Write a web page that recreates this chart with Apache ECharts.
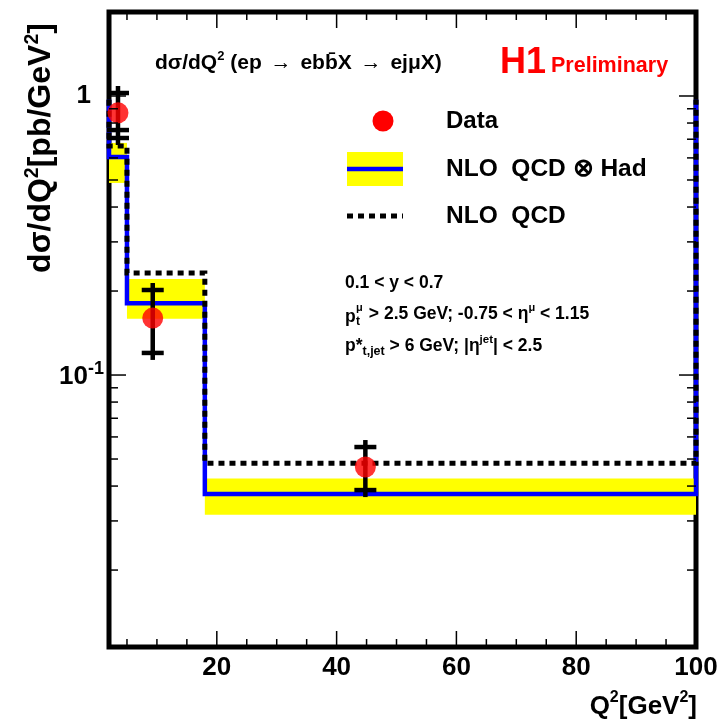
<!DOCTYPE html>
<html><head><meta charset="utf-8">
<script src="https://cdn.jsdelivr.net/npm/echarts@6/dist/echarts.min.js"></script>
<style>html,body{margin:0;padding:0;background:#fff}#c{width:722px;height:728px}</style>
</head><body><div id="c"></div>
<script>
// ---- data ----
const binEdges = [2, 5, 18, 100];
const nloHad = [0.604, 0.181, 0.0375];
const nloHadLow = [0.488, 0.159, 0.0316];
const nloHadHigh = [0.679, 0.221, 0.0426];
const nloQcd = [0.662, 0.232, 0.0483];
const outerLevel = [0.97, 0.97];   // level the histogram outline reaches at the two outer edges
const dataQ2 = [3.5, 9.3, 44.8];
const dataVal = [0.87, 0.160, 0.0468];
const dataErrHigh = [1.025, 0.2017, 0.0552];
const dataErrLow = [0.707, 0.120, 0.0387];
const dataStatLow = [0.755, 0.120, 0.0387];
const xLabels = [20, 40, 60, 80, 100];
const xMajorTicks = [20, 40, 60, 80];
const xMinorTicks = [5, 10, 15, 25, 30, 35, 45, 50, 55, 65, 70, 75, 85, 90, 95];
const yLabels = [0.1, 1];
const yMajorTicks = [0.1, 1];
const yMinorTicks = [0.02, 0.03, 0.04, 0.05, 0.06, 0.07, 0.08, 0.09, 0.2, 0.3, 0.4, 0.5, 0.6, 0.7, 0.8, 0.9];
const xMin = 2, xMax = 100, yMin = 0.0106, yMax = 2;

const FONT = '"Liberation Sans", Arial, sans-serif';

function stepPoints(vals) {
  const pts = [[binEdges[0], outerLevel[0]]];
  for (let i = 0; i < vals.length; i++) {
    pts.push([binEdges[i], vals[i]]);
    pts.push([binEdges[i + 1], vals[i]]);
  }
  pts.push([binEdges[binEdges.length - 1], outerLevel[1]]);
  return pts;
}

const bandData = nloHad.map((v, i) => [binEdges[i], binEdges[i + 1], nloHadLow[i], nloHadHigh[i]]);
const errData = dataQ2.map((q, i) => [q, dataErrHigh[i], dataErrLow[i], dataStatLow[i]]);
const tickData = []
  .concat(xMajorTicks.map(v => [v, yMax, 16, 0]))
  .concat(xMinorTicks.map(v => [v, yMax, 8, 0]))
  .concat(yMajorTicks.map(v => [xMin, v, 17, 1]))
  .concat(yMinorTicks.map(v => [xMin, v, 9, 1]));

const chart = echarts.init(document.getElementById('c'), null, {renderer: 'canvas'});

const txt = (size, extra) => Object.assign({fontSize: size, fontWeight: 'bold', fontFamily: FONT, fill: '#000'}, extra || {});

const option = {
  animation: false,
  backgroundColor: '#fff',
  grid: {left: 109, right: 26, top: 12, bottom: 81, show: true, borderColor: '#000', borderWidth: 5, backgroundColor: 'transparent'},
  xAxis: {
    type: 'value', min: xMin, max: xMax,
    splitLine: {show: false}, axisTick: {show: false}, axisLine: {show: false},
    axisLabel: {customValues: xLabels, fontSize: 26, fontWeight: 'bold', color: '#000', fontFamily: FONT, margin: 8, showMaxLabel: true}
  },
  yAxis: {
    type: 'log', logBase: 10, min: yMin, max: yMax,
    splitLine: {show: false}, axisTick: {show: false}, axisLine: {show: false},
    axisLabel: {
      customValues: yLabels, margin: 5, color: '#000', fontFamily: FONT, fontWeight: 'bold', fontSize: 26,
      formatter: v => (v > 0.5 ? '{one|1}' : '{b|10}{s|-1}'),
      rich: {
        one: {fontSize: 26, fontWeight: 'bold', fontFamily: FONT, color: '#000', lineHeight: 30, padding: [0, 13, 0, 0]},
        b: {fontSize: 26, fontWeight: 'bold', fontFamily: FONT, color: '#000', lineHeight: 30, verticalAlign: 'bottom'},
        s: {fontSize: 18, fontWeight: 'bold', fontFamily: FONT, color: '#000', lineHeight: 18, verticalAlign: 'top'}
      }
    }
  },
  series: [
    {
      type: 'custom', name: 'band', data: bandData, z: 2, silent: true,
      encode: {x: [0, 1], y: [2, 3]},
      renderItem: (params, api) => {
        const p1 = api.coord([api.value(0), api.value(3)]);
        const p2 = api.coord([api.value(1), api.value(2)]);
        return {type: 'rect', shape: {x: p1[0], y: p1[1], width: p2[0] - p1[0], height: p2[1] - p1[1]}, style: {fill: '#ffff00'}};
      }
    },
    {
      type: 'line', name: 'NLO QCD x Had', data: stepPoints(nloHad), z: 3, symbol: 'none', silent: true,
      lineStyle: {color: '#0000ff', width: 4.5, cap: 'butt', join: 'miter'}
    },
    {
      type: 'line', name: 'NLO QCD', data: stepPoints(nloQcd), z: 4, symbol: 'none', silent: true,
      lineStyle: {color: '#000', width: 5, type: [6, 5], cap: 'butt', join: 'miter'}
    },
    {
      type: 'custom', name: 'errors', data: errData, z: 5, silent: true,
      encode: {x: 0, y: [1, 2]},
      renderItem: (params, api) => {
        const q = api.value(0);
        const hi = api.coord([q, api.value(1)]);
        const lo = api.coord([q, api.value(2)]);
        const st = api.coord([q, api.value(3)]);
        const ext = 7, hw = 11;
        const st2 = {stroke: '#000', lineWidth: 4.5};
        const children = [
          {type: 'line', shape: {x1: hi[0], y1: hi[1] - ext, x2: lo[0], y2: lo[1] + ext}, style: st2},
          {type: 'line', shape: {x1: hi[0] - hw, y1: hi[1], x2: hi[0] + hw, y2: hi[1]}, style: st2},
          {type: 'line', shape: {x1: lo[0] - hw, y1: lo[1], x2: lo[0] + hw, y2: lo[1]}, style: st2}
        ];
        if (Math.abs(st[1] - lo[1]) > 1) {
          children.push({type: 'line', shape: {x1: st[0] - hw, y1: st[1], x2: st[0] + hw, y2: st[1]}, style: st2});
        }
        return {type: 'group', children};
      }
    },
    {
      type: 'scatter', name: 'Data', data: dataQ2.map((q, i) => [q, dataVal[i]]), z: 6, silent: true,
      symbol: 'circle', symbolSize: 21, itemStyle: {color: '#ff0000'}
    },
    {
      type: 'custom', name: 'ticks', data: tickData, z: 7, silent: true,
      encode: {x: 0, y: 1},
      renderItem: (params, api) => {
        const cs = params.coordSys;
        const len = api.value(2);
        const st = {stroke: '#000', lineWidth: 1.5};
        const left = cs.x, right = cs.x + cs.width, top = cs.y, bottom = cs.y + cs.height;
        if (api.value(3) === 0) {
          const px = api.coord([api.value(0), api.value(1)])[0];
          return {type: 'group', children: [
            {type: 'line', shape: {x1: px, y1: bottom, x2: px, y2: bottom - len}, style: st},
            {type: 'line', shape: {x1: px, y1: top, x2: px, y2: top + len}, style: st}
          ]};
        }
        const py = api.coord([api.value(0), api.value(1)])[1];
        return {type: 'group', children: [
          {type: 'line', shape: {x1: left, y1: py, x2: left + len, y2: py}, style: st},
          {type: 'line', shape: {x1: right, y1: py, x2: right - len, y2: py}, style: st}
        ]};
      }
    }
  ],
  graphic: [
    // axis titles
    {type: 'text', x: 697, y: 705, z: 100, style: {
      text: '{a|Q}{s|2}{a|[GeV}{s|2}{a|]}', align: 'right', verticalAlign: 'middle',
      rich: {a: txt(26, {lineHeight: 30, verticalAlign: 'bottom'}), s: txt(16, {lineHeight: 16, verticalAlign: 'top'})}
    }},
    {type: 'text', x: 40, y: 148, rotation: Math.PI / 2, z: 100, style: {
      text: '{a|dσ/dQ}{s|2}{a|[pb/GeV}{s|2}{a|]}', align: 'center', verticalAlign: 'middle',
      rich: {a: txt(32, {lineHeight: 35, verticalAlign: 'bottom'}), s: txt(19.5, {lineHeight: 19, verticalAlign: 'top'})}
    }},
    // header
    {type: 'text', x: 155, y: 62, z: 100, style: {
      text: '{a|dσ/dQ}{s|2}{a| (ep }{r|→}{a| ebb\u0304X }{r|→}{a| ejμX)}', align: 'left', verticalAlign: 'middle',
      rich: {a: txt(21, {lineHeight: 24, verticalAlign: 'bottom'}), s: txt(13, {lineHeight: 13, verticalAlign: 'top'}),
             r: txt(21, {lineHeight: 24, verticalAlign: 'bottom', fontWeight: 'normal', padding: [0, 3, 0, 3]})}
    }},
    {type: 'text', x: 500, y: 63, z: 100, style: txt(36, {text: 'H1', fill: '#ff0000', verticalAlign: 'middle'})},
    {type: 'text', x: 551, y: 66, z: 100, style: txt(21.5, {text: 'Preliminary', fill: '#ff0000', verticalAlign: 'middle'})},
    // legend
    {type: 'circle', shape: {cx: 383, cy: 121, r: 10.5}, style: {fill: '#ff0000'}, z: 100},
    {type: 'text', x: 446, y: 121, z: 100, style: txt(24, {text: 'Data', verticalAlign: 'middle'})},
    {type: 'rect', shape: {x: 347, y: 152, width: 56, height: 34}, style: {fill: '#ffff00'}, z: 100},
    {type: 'line', shape: {x1: 347, y1: 169, x2: 403, y2: 169}, style: {stroke: '#0000ff', lineWidth: 4.5}, z: 101},
    {type: 'text', x: 446, y: 169, z: 100, style: txt(24.5, {text: 'NLO  QCD ⊗ Had', verticalAlign: 'middle'})},
    {type: 'line', shape: {x1: 347, y1: 216, x2: 403, y2: 216}, style: {stroke: '#000', lineWidth: 5, lineDash: [6, 5]}, z: 100},
    {type: 'text', x: 446, y: 216, z: 100, style: txt(24.5, {text: 'NLO  QCD', verticalAlign: 'middle'})},
    // cuts
    {type: 'text', x: 345, y: 283, z: 100, style: txt(17.5, {text: '0.1 < y < 0.7', verticalAlign: 'middle'})},
    {type: 'text', x: 345, y: 317, z: 100, style: txt(17.5, {text: 'p', verticalAlign: 'middle'})},
    {type: 'text', x: 356, y: 308, z: 100, style: txt(11, {text: 'μ', verticalAlign: 'middle'})},
    {type: 'text', x: 356, y: 322, z: 100, style: txt(12, {text: 't', verticalAlign: 'middle'})},
    {type: 'text', x: 364, y: 314, z: 100, style: {
      text: '{a| > 2.5 GeV; -0.75 < η}{sp|μ}{a| < 1.15}', verticalAlign: 'middle',
      rich: {a: txt(17.5, {lineHeight: 24, verticalAlign: 'middle'}), sp: txt(11, {lineHeight: 11, verticalAlign: 'top'})}
    }},
    {type: 'text', x: 345, y: 346, z: 100, style: {
      text: '{a|p*}{sb|t,jet}{a| > 6 GeV; |η}{sp|jet}{a|| < 2.5}', verticalAlign: 'middle',
      rich: {a: txt(17.5, {lineHeight: 24, verticalAlign: 'middle'}), sp: txt(11.5, {lineHeight: 11, verticalAlign: 'top'}),
             sb: txt(12.5, {lineHeight: 12, verticalAlign: 'bottom'})}
    }}
  ]
};
chart.setOption(option);
</script>
</body></html>
